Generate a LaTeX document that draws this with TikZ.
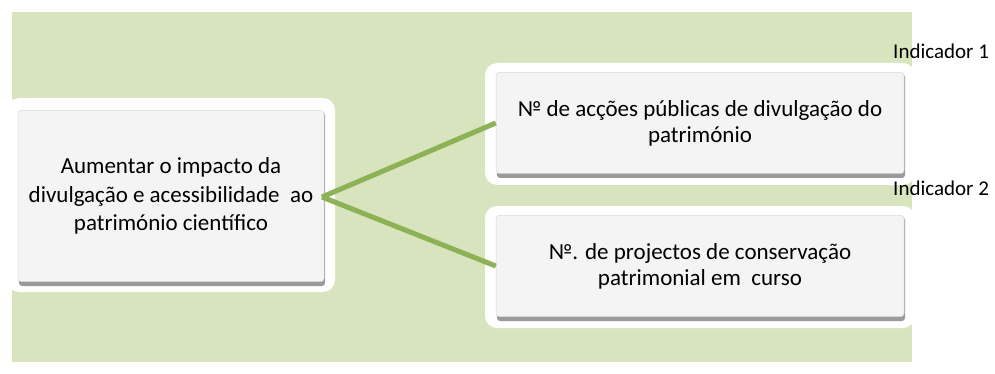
\documentclass[tikz,border=0pt]{standalone}
\usepackage{fontspec}
\setmainfont{Carlito}
\definecolor{bggreen}{HTML}{D7E4BD}
\definecolor{linkgreen}{HTML}{8DB255}
\definecolor{boxgrey}{HTML}{F4F4F4}
\definecolor{shadowgrey}{HTML}{9A9A9A}
\begin{document}
\begin{tikzpicture}[x=1pt,y=-1pt,
  outerbox/.style={fill=white,rounded corners=12pt},
  innerbox/.style={fill=boxgrey,draw=shadowgrey!40,line width=0.5pt,rounded corners=3pt,
    align=center, inner sep=0pt},
  link/.style={draw=linkgreen,line width=5pt},
  lbl/.style={font=\fontsize{21}{24}\selectfont, anchor=west, inner sep=0pt}]
\useasboundingbox (0,0) rectangle (995,374);
\fill[bggreen] (12,12) rectangle (912,362);
% outer white frames
\fill[outerbox] (7,98) rectangle (335,292);
\fill[outerbox] (485,63) rectangle (915,185);
\fill[outerbox] (485,206) rectangle (915,328);
% shadows
\fill[shadowgrey,rounded corners=3pt] (19,112) rectangle (325,286);
\fill[shadowgrey,rounded corners=3pt] (497,74) rectangle (905,178);
\fill[shadowgrey,rounded corners=3pt] (497,217) rectangle (905,321);
% connectors
\coordinate (hub) at (322,197);
\node[innerbox, minimum width=306pt, minimum height=171pt,
  font=\fontsize{23}{28.5}\selectfont] (goal) at (171,196)
  {Aumentar o impacto da\\ divulgação e acessibilidade\ \ ao\\ património científico};
\node[innerbox, minimum width=408pt, minimum height=101pt,
  font=\fontsize{23}{26}\selectfont] (ind1) at (700,123)
  {№ de acções públicas de divulgação do\\ património};
\node[innerbox, minimum width=408pt, minimum height=101pt,
  font=\fontsize{23}{26}\selectfont] (ind2) at (700,266)
  {№. de projectos de conservação\\ patrimonial em\ \ curso};
\draw[link] (hub) -- (ind1.west);
\draw[link] (hub) -- (ind2.west);
\node[lbl] (l1) at (893,51) {Indicador 1};
\node[lbl] (l2) at (893,188) {Indicador 2};
\end{tikzpicture}
\end{document}
